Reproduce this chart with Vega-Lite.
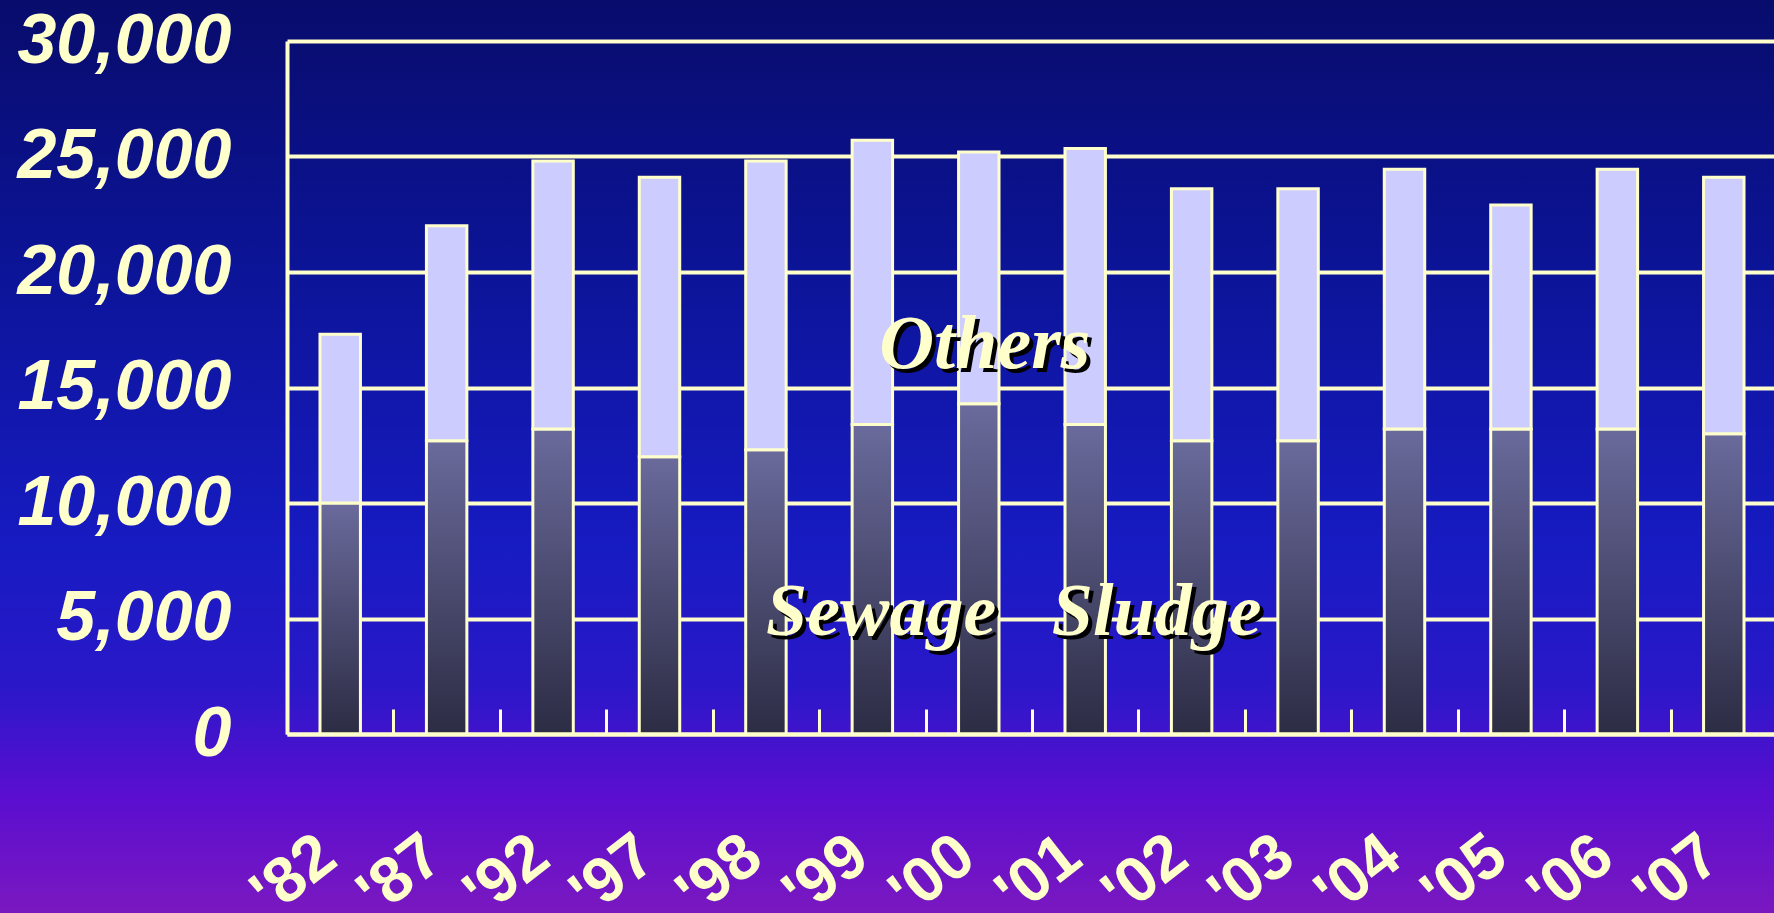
{
  "$schema": "https://vega.github.io/schema/vega-lite/v6.json",
  "width": 1774,
  "height": 913,
  "padding": 0,
  "autosize": {"type": "none"},
  "background": "#0B0F80",
  "config": {
    "view": {
      "stroke": null,
      "fill": {
        "gradient": "linear", "x1": 0, "y1": 0, "x2": 0, "y2": 1,
        "stops": [
          {"offset": 0, "color": "#080C6C"},
          {"offset": 0.3, "color": "#0C1498"},
          {"offset": 0.6, "color": "#171BC2"},
          {"offset": 0.75, "color": "#2A18C8"},
          {"offset": 0.87, "color": "#5A0ED0"},
          {"offset": 1, "color": "#7A18C0"}
        ]
      }
    }
  },
  "datasets": {
    "bars": [
      {"year": "'82", "sludge": 10000, "total": 17300},
      {"year": "'87", "sludge": 12700, "total": 22000},
      {"year": "'92", "sludge": 13200, "total": 24800},
      {"year": "'97", "sludge": 12000, "total": 24100},
      {"year": "'98", "sludge": 12300, "total": 24800},
      {"year": "'99", "sludge": 13400, "total": 25700},
      {"year": "'00", "sludge": 14300, "total": 25200},
      {"year": "'01", "sludge": 13400, "total": 25350},
      {"year": "'02", "sludge": 12700, "total": 23600},
      {"year": "'03", "sludge": 12700, "total": 23600},
      {"year": "'04", "sludge": 13200, "total": 24450},
      {"year": "'05", "sludge": 13200, "total": 22900},
      {"year": "'06", "sludge": 13200, "total": 24450},
      {"year": "'07", "sludge": 13000, "total": 24100}
    ],
    "others": [{"year": "'00", "value": 15840, "label": "Others"}],
    "sludge": [{"year": "'00", "value": 4290, "label": "Sewage\u00a0\u00a0\u00a0Sludge"}]
  },
  "layer": [
    {
      "data": {"name": "bars"},
      "mark": {
        "type": "bar",
        "width": {"band": 0.38},
        "fill": {
          "gradient": "linear", "x1": 0, "y1": 0, "x2": 0, "y2": 1,
          "stops": [
            {"offset": 0, "color": "#6A6A9C"},
            {"offset": 1, "color": "#2C2C44"}
          ]
        },
        "stroke": "#FFFFCC",
        "strokeWidth": 3
      },
      "encoding": {
        "x": {
          "field": "year", "type": "nominal", "sort": null,
          "scale": {
            "domain": ["'82", "'87", "'92", "'97", "'98", "'99", "'00", "'01", "'02", "'03", "'04", "'05", "'06", "'07"],
            "range": [287, 1777], "paddingInner": 0, "paddingOuter": 0
          },
          "axis": {
            "title": null,
            "offset": -179,
            "zindex": 1,
            "domainColor": "#FFFFCC", "domainWidth": 4,
            "tickBand": "extent",
            "tickColor": "#FFFFCC", "tickWidth": 3, "tickSize": -25,
            "labelAngle": -38, "labelAlign": "right", "labelBaseline": "top",
            "labelFont": "Liberation Sans",
            "labelFontSize": 64, "labelFontWeight": "bold",
            "labelColor": "#FFFFCC", "labelPadding": 114, "labelOffset": -32,
            "labelOverlap": false, "labelLimit": 0
          }
        },
        "y": {
          "field": "sludge", "type": "quantitative",
          "scale": {"domain": [0, 30000], "range": [734, 41], "nice": false, "zero": true},
          "axis": {
            "title": null,
            "offset": -287,
            "values": [0, 5000, 10000, 15000, 20000, 25000, 30000],
            "format": ",d",
            "ticks": false,
            "domainColor": "#FFFFCC", "domainWidth": 4,
            "grid": true, "gridColor": "#FFFFCC", "gridWidth": 4, "gridOpacity": 1,
            "labelFont": "Liberation Sans",
            "labelFontSize": 70, "labelFontWeight": "bold", "labelFontStyle": "italic",
            "labelColor": "#FFFFCC", "labelPadding": 56, "labelBaseline": "middle",
            "labelLimit": 0, "labelOverlap": false
          }
        }
      }
    },
    {
      "data": {"name": "bars"},
      "mark": {"type": "bar", "width": {"band": 0.38}, "fill": "#CCCCFF", "stroke": "#FFFFCC", "strokeWidth": 3},
      "encoding": {
        "x": {"field": "year", "type": "nominal", "sort": null},
        "y": {"field": "total", "type": "quantitative"},
        "y2": {"field": "sludge"}
      }
    },
    {
      "data": {"name": "others"},
      "mark": {"type": "text", "font": "Liberation Serif", "fontStyle": "italic", "fontWeight": "bold", "fontSize": 76, "align": "center", "baseline": "alphabetic", "color": "#000000", "dx": 10, "dy": 4},
      "encoding": {
        "x": {"field": "year", "type": "nominal", "sort": null},
        "y": {"field": "value", "type": "quantitative"},
        "text": {"field": "label"}
      }
    },
    {
      "data": {"name": "others"},
      "mark": {"type": "text", "font": "Liberation Serif", "fontStyle": "italic", "fontWeight": "bold", "fontSize": 76, "align": "center", "baseline": "alphabetic", "color": "#FFFFCC", "dx": 6, "dy": 0},
      "encoding": {
        "x": {"field": "year", "type": "nominal", "sort": null},
        "y": {"field": "value", "type": "quantitative"},
        "text": {"field": "label"}
      }
    },
    {
      "data": {"name": "sludge"},
      "mark": {"type": "text", "font": "Liberation Serif", "fontStyle": "italic", "fontWeight": "bold", "fontSize": 74, "align": "center", "baseline": "alphabetic", "color": "#000000", "dx": 39, "dy": 4},
      "encoding": {
        "x": {"field": "year", "type": "nominal", "sort": null},
        "y": {"field": "value", "type": "quantitative"},
        "text": {"field": "label"}
      }
    },
    {
      "data": {"name": "sludge"},
      "mark": {"type": "text", "font": "Liberation Serif", "fontStyle": "italic", "fontWeight": "bold", "fontSize": 74, "align": "center", "baseline": "alphabetic", "color": "#FFFFCC", "dx": 35, "dy": 0},
      "encoding": {
        "x": {"field": "year", "type": "nominal", "sort": null},
        "y": {"field": "value", "type": "quantitative"},
        "text": {"field": "label"}
      }
    }
  ]
}
